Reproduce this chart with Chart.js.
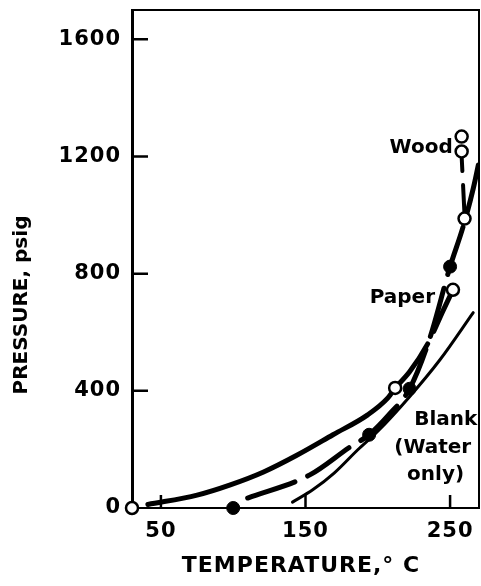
<!DOCTYPE html>
<html>
<head>
<meta charset="utf-8">
<script src="https://cdn.jsdelivr.net/npm/chart.js@4.4.0/dist/chart.umd.min.js"></script>
<style>
    html, body { margin: 0; padding: 0; background: #fff; }
</style>
</head>
<body>
<canvas id="chartPressure" width="481" height="586"></canvas>
<script>
// axis ticks
const xTicks = [50, 150, 250];
const yTicks = [0, 400, 800, 1200, 1600];

// measured points
const openT = [30, 212, 252, 260, 258, 258];
const openP = [0, 410, 745, 988, 1217, 1268];
const filledT = [100, 194, 222, 250];
const filledP = [0, 250, 407, 824];

// upper curve (solid, then dashed up to the paper point)
const upperT = [41, 75, 98, 121, 144, 169, 193, 207, 212];
const upperP = [12, 44, 79, 123, 180, 250, 318, 376, 410];
const upperDashT = [212, 222, 235, 245, 252];
const upperDashP = [410, 465, 565, 672, 745];

// middle dashed curve through the filled points
const middleT = [110, 153, 181, 194, 208, 222, 236, 250, 259, 266, 272];
const middleP = [34, 113, 209, 250, 320, 407, 580, 824, 960, 1090, 1230];

// short dashed rise to the wood points
const woodT = [260, 259, 258];
const woodP = [1000, 1100, 1200];

// blank run (water only)
const blankT = [141, 155, 170, 186, 200, 222, 243, 266];
const blankP = [20, 62, 120, 198, 262, 380, 506, 667];

const FONT = '"DejaVu Sans", sans-serif';

function pts(xs, ys) {
    return xs.map((x, i) => ({ x: x, y: ys[i] }));
}

function curve(xs, ys, width, dash, smooth) {
    return {
        data: pts(xs, ys),
        showLine: true,
        borderColor: '#000',
        borderWidth: width,
        borderDash: dash || [],
        borderCapStyle: 'round',
        pointRadius: 0,
        cubicInterpolationMode: smooth === false ? 'default' : 'monotone',
        tension: smooth === false ? 0 : 0.4,
        fill: false
    };
}

// frame, inward ticks, axis titles and curve labels
const decoracao = {
    id: 'decoracao',
    beforeDraw(chart) {
        chart.ctx.letterSpacing = '1px';
    },
    afterDraw(chart) {
        const { ctx, chartArea: a, scales: { x, y } } = chart;
        ctx.save();
        ctx.strokeStyle = '#000';
        ctx.lineWidth = 2;
        ctx.beginPath();
        ctx.moveTo(a.left, a.top);
        ctx.lineTo(a.right, a.top);
        ctx.lineTo(a.right, a.bottom);
        ctx.stroke();

        ctx.lineWidth = 2.5;
        ctx.beginPath();
        xTicks.forEach(v => {
            const px = x.getPixelForValue(v);
            ctx.moveTo(px, a.bottom);
            ctx.lineTo(px, a.bottom - 13);
        });
        yTicks.slice(1).forEach(v => {
            const py = y.getPixelForValue(v);
            ctx.moveTo(a.left, py);
            ctx.lineTo(a.left + 16, py);
        });
        ctx.stroke();

        ctx.fillStyle = '#000';
        ctx.textAlign = 'center';
        ctx.textBaseline = 'middle';
        ctx.letterSpacing = '1px';
        ctx.font = 'bold 22px ' + FONT;
        ctx.fillText('TEMPERATURE,° C', 301, 566);

        ctx.save();
        ctx.translate(22, 305);
        ctx.rotate(-Math.PI / 2);
        ctx.letterSpacing = '0px';
        ctx.font = 'bold 20px ' + FONT;
        ctx.fillText('PRESSURE, psig', 0, 0);
        ctx.restore();

        ctx.letterSpacing = '0px';
        ctx.font = 'bold 20px ' + FONT;
        ctx.fillText('Wood', x.getPixelForValue(230), y.getPixelForValue(1231));
        ctx.fillText('Paper', x.getPixelForValue(217), y.getPixelForValue(718));
        ctx.fillText('Blank', x.getPixelForValue(247), y.getPixelForValue(301));
        ctx.fillText('(Water', x.getPixelForValue(238), y.getPixelForValue(205));
        ctx.fillText('only)', x.getPixelForValue(240), y.getPixelForValue(113));
        ctx.restore();
    }
};

const ctx = document.getElementById('chartPressure').getContext('2d');
new Chart(ctx, {
    type: 'scatter',
    data: {
        datasets: [
            {
                data: pts(openT, openP),
                pointRadius: 6,
                pointBorderWidth: 2.5,
                pointBorderColor: '#000',
                pointBackgroundColor: '#fff',
                clip: false
            },
            {
                data: pts(filledT, filledP),
                pointRadius: 6.5,
                pointBorderWidth: 1,
                pointBorderColor: '#000',
                pointBackgroundColor: '#000',
                clip: false
            },
            curve(upperT, upperP, 5),
            curve(upperDashT, upperDashP, 5, [55, 14]),
            curve(middleT, middleP, 5, [50, 14]),
            curve(woodT, woodP, 4, [30, 14], false),
            curve(blankT, blankP, 3)
        ]
    },
    options: {
        responsive: false,
        animation: false,
        // no extra room for point radius, the frame runs almost to the right edge
        layout: { autoPadding: false, padding: { top: 10, right: 2, left: 0, bottom: 0 } },
        plugins: {
            legend: { display: false },
            tooltip: { enabled: false }
        },
        scales: {
            x: {
                type: 'linear',
                min: 30,
                max: 270,
                afterBuildTicks: s => { s.ticks = xTicks.map(v => ({ value: v })); },
                afterFit: s => {
                    s.height = 78;
                    s.paddingLeft = 0;
                    s.paddingRight = 0;
                },
                grid: { display: false, drawTicks: false },
                border: { color: '#000', width: 2 },
                ticks: {
                    color: '#000',
                    font: { family: FONT, size: 21, weight: 'bold' },
                    padding: 11,
                    maxRotation: 0,
                    autoSkip: false,
                    callback: v => String(v)
                }
            },
            y: {
                min: 0,
                max: 1700,
                afterBuildTicks: s => { s.ticks = yTicks.map(v => ({ value: v })); },
                afterFit: s => {
                    s.width = 132;
                    s.paddingTop = 0;
                    s.paddingBottom = 0;
                },
                grid: { display: false, drawTicks: false },
                border: { color: '#000', width: 3 },
                ticks: {
                    color: '#000',
                    font: { family: FONT, size: 21, weight: 'bold' },
                    padding: 11,
                    autoSkip: false,
                    callback: v => String(v)
                }
            }
        }
    },
    plugins: [decoracao]
});
</script>
</body>
</html>
